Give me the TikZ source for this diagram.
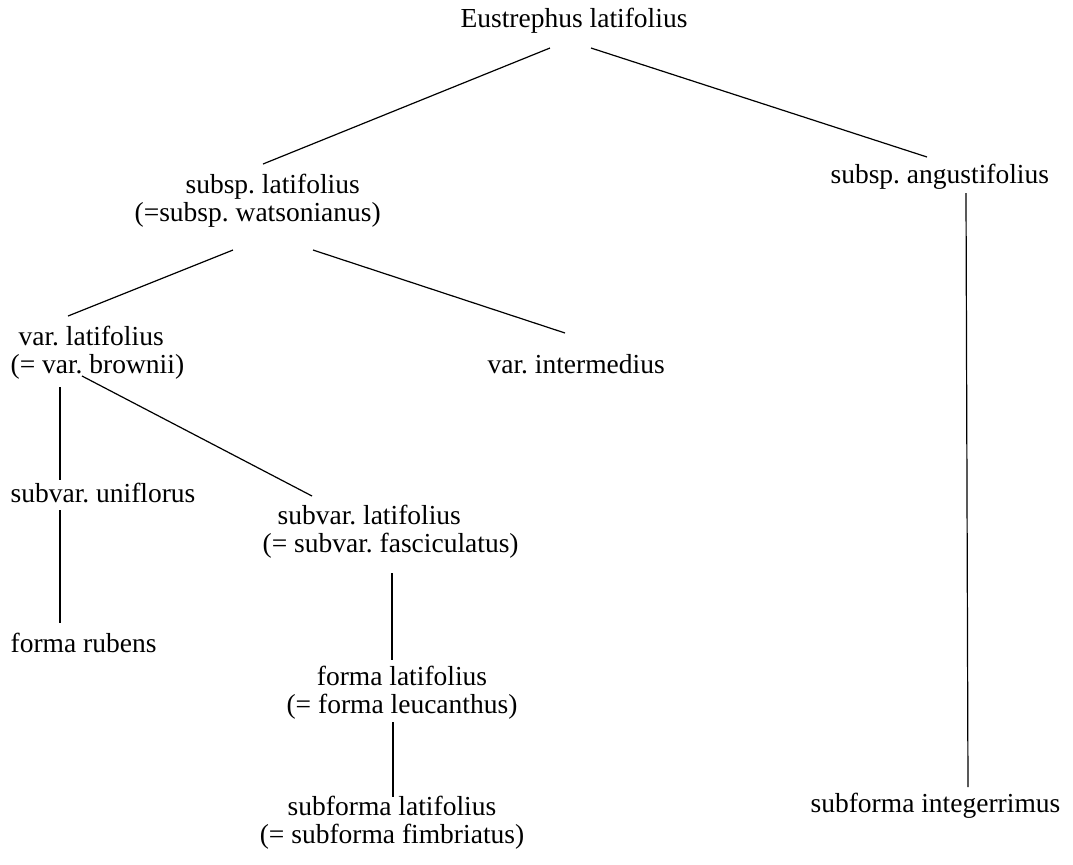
\documentclass[tikz,border=0pt]{standalone}
\usepackage{fontspec}
\setmainfont{Liberation Serif}
\frenchspacing

\begin{document}
\begin{tikzpicture}[x=0.5pt, y=-0.5pt, line width=0.6pt,
        taxon/.style = {inner sep=0pt, font=\fontsize{13.75}{14}\selectfont},
        pair/.style = {taxon, align=left}]
        \useasboundingbox (0,0) rectangle (1073,864);

        \node[taxon, anchor=base] (root) at (574,27) {Eustrephus latifolius};
        \node[pair, anchor=base west] (subsp-latifolius) at (134,221) {\hspace*{25.5pt}subsp. latifolius\\(=subsp. watsonianus)};
        \node[taxon, anchor=base west] (subsp-angustifolius) at (830,183) {subsp. angustifolius};
        \node[pair, anchor=base west] (var-latifolius) at (10,373) {\hspace*{4pt}var. latifolius\\(= var. brownii)};
        \node[taxon, anchor=base west] (var-intermedius) at (487,373) {var. intermedius};
        \node[taxon, anchor=base west] (subvar-uniflorus) at (10,502) {subvar. uniflorus};
        \node[pair, anchor=base west] (subvar-latifolius) at (262,552) {\hspace*{7.5pt}subvar. latifolius\\(= subvar. fasciculatus)};
        \node[taxon, anchor=base west] (forma-rubens) at (10,652) {forma rubens};
        \node[taxon, align=center, anchor=base] (forma-latifolius) at (402,713) {forma latifolius\\(= forma leucanthus)};
        \node[taxon, align=center, anchor=base] (subforma-latifolius) at (392,843) {subforma latifolius\\(= subforma fimbriatus)};
        \node[taxon, anchor=base west] (subforma-integerrimus) at (810,812) {subforma integerrimus};

        \draw ([shift={(-24,21)}]root.base) -- ([shift={(129,-57)}]subsp-latifolius.base west);
        \draw ([shift={(17,21)}]root.base) -- ([shift={(97,-26)}]subsp-angustifolius.base west);

        \draw ([shift={(99,29)}]subsp-latifolius.base west) -- ([shift={(58,-57)}]var-latifolius.base west);
        \draw ([shift={(179,29)}]subsp-latifolius.base west) -- ([shift={(78,-40)}]var-intermedius.base west);

        \draw ([shift={(136,10)}]subsp-angustifolius.base west) -- ([shift={(158,-25)}]subforma-integerrimus.base west);

        \draw ([shift={(50,14)}]var-latifolius.base west) -- ([shift={(50,-22)}]subvar-uniflorus.base west);
        \draw ([shift={(72,3)}]var-latifolius.base west) -- ([shift={(50,-56)}]subvar-latifolius.base west);

        \draw ([shift={(50,8)}]subvar-uniflorus.base west) -- ([shift={(50,-29)}]forma-rubens.base west);

        \draw ([shift={(130,21)}]subvar-latifolius.base west) -- ([shift={(-10,-53)}]forma-latifolius.base);
        \draw ([shift={(-9,9)}]forma-latifolius.base) -- ([shift={(1,-46)}]subforma-latifolius.base);
    \end{tikzpicture}
\end{document}
